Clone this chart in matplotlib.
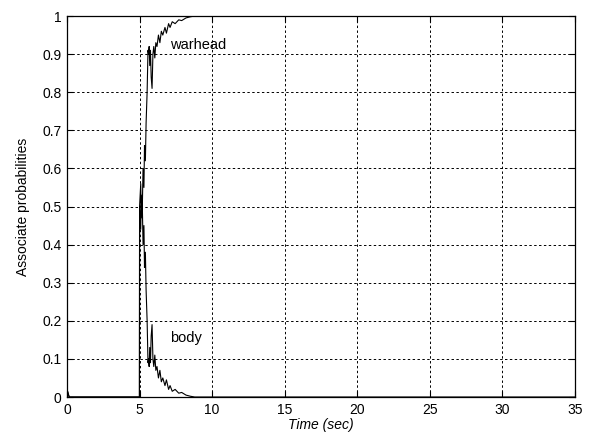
import numpy as np
import matplotlib.pyplot as plt

plt.rcParams['font.family'] = ['Liberation Sans', 'DejaVu Sans']

# association probability histories (time in sec)
t_warhead = [0.0, 0.15, 0.3, 4.99, 5.0, 5.08, 5.12, 5.18, 5.24, 5.3, 5.34, 5.4, 5.45,
             5.52, 5.58, 5.62, 5.66, 5.7, 5.75, 5.8, 5.86, 5.92, 5.98, 6.05, 6.12,
             6.2, 6.3, 6.4, 6.5, 6.6, 6.75, 6.85, 7.0, 7.1, 7.25, 7.45, 7.7,
             7.9, 8.2, 8.5, 8.8, 35.0]
p_warhead = [0.02, 0.0, 0.0, 0.0, 0.5, 0.44, 0.53, 0.48, 0.6, 0.55, 0.66, 0.62, 0.72,
             0.8, 0.91, 0.9, 0.92, 0.87, 0.91, 0.84, 0.81, 0.9, 0.92, 0.89, 0.93,
             0.92, 0.95, 0.93, 0.96, 0.95, 0.97, 0.955, 0.98, 0.97, 0.985, 0.98, 0.99,
             0.988, 0.995, 0.998, 1.0, 1.0]

t_body = [0.0, 0.15, 0.3, 4.99, 5.0, 5.08, 5.12, 5.18, 5.24, 5.3, 5.34, 5.4, 5.45,
          5.52, 5.58, 5.62, 5.66, 5.7, 5.75, 5.8, 5.86, 5.92, 5.98, 6.05, 6.12,
          6.2, 6.3, 6.4, 6.5, 6.6, 6.75, 6.85, 7.0, 7.1, 7.25, 7.45, 7.7,
          7.9, 8.2, 8.5, 8.8, 35.0]
p_body = [0.02, 0.0, 0.0, 0.0, 0.5, 0.56, 0.47, 0.52, 0.4, 0.45, 0.34, 0.38, 0.28,
          0.2, 0.09, 0.1, 0.08, 0.13, 0.09, 0.16, 0.19, 0.1, 0.08, 0.11, 0.07,
          0.08, 0.05, 0.07, 0.04, 0.05, 0.03, 0.045, 0.02, 0.03, 0.015, 0.02, 0.01,
          0.012, 0.005, 0.002, 0.0, 0.0]

x_ticks = [0, 5, 10, 15, 20, 25, 30, 35]
y_ticks = [0, 0.1, 0.2, 0.3, 0.4, 0.5, 0.6, 0.7, 0.8, 0.9, 1]
y_ticklabels = ['0', '0.1', '0.2', '0.3', '0.4', '0.5', '0.6', '0.7', '0.8', '0.9', '1']

fig = plt.figure(figsize=(5.94, 4.4), dpi=100)
ax = fig.add_axes([0.1128, 0.0977, 0.8552, 0.8659])

ax.plot(t_warhead, p_warhead, color='black', linewidth=0.8)
ax.plot(t_body, p_body, color='black', linewidth=0.8)

ax.text(7.1, 0.925, 'warhead', fontsize=10.5, va='center', ha='left')
ax.text(7.1, 0.155, 'body', fontsize=10.5, va='center', ha='left')

ax.set_xlim(0, 35)
ax.set_ylim(0, 1)
ax.set_xticks(x_ticks)
ax.set_yticks(y_ticks)
ax.set_yticklabels(y_ticklabels)
ax.tick_params(direction='in', length=4, width=0.8, labelsize=10,
               top=True, right=True, pad=4)
ax.grid(True, color='black', linestyle=(0, (2.5, 2.5)), linewidth=0.7)
for s in ax.spines.values():
    s.set_linewidth(0.9)

ax.set_xlabel('Time (sec)', fontsize=10, style='italic', labelpad=1)
ax.set_ylabel('Associate probabilities', fontsize=10, labelpad=9)

fig.savefig('out.png', dpi=100)
